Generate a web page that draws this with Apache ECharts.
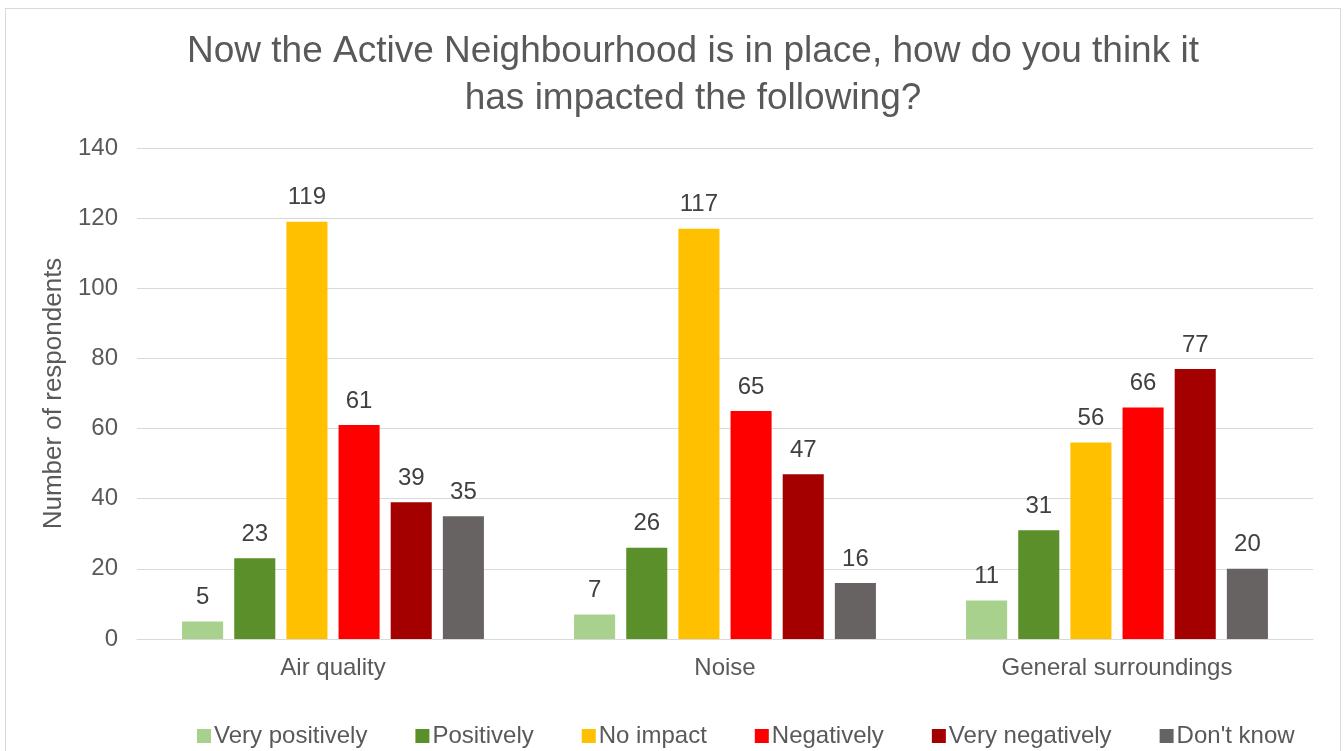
<!DOCTYPE html>
<html>
<head>
<meta charset="utf-8">
<script src="https://cdn.jsdelivr.net/npm/echarts@6/dist/echarts.min.js"></script>
<style>
  html, body { margin: 0; padding: 0; background: #fff; }
  #chart { width: 1344px; height: 751px; }
  .frame { position: absolute; left: 5px; top: 8px; width: 1334px; height: 760px; border: 1px solid #d9d9d9; pointer-events: none; }
</style>
</head>
<body>
<div id="chart"></div>
<div class="frame"></div>
<script>
  const categories = ['Air quality', 'Noise', 'General surroundings'];
  const seriesNames = ['Very positively', 'Positively', 'No impact', 'Negatively', 'Very negatively', "Don't know"];
  const veryPositively = [5, 7, 11];
  const positively = [23, 26, 31];
  const noImpact = [119, 117, 56];
  const negatively = [61, 65, 66];
  const veryNegatively = [39, 47, 77];
  const dontKnow = [35, 16, 20];
  const colors = ['#a9d18e', '#5b8f29', '#ffc000', '#ff0000', '#a50000', '#686363'];

  const values = [veryPositively, positively, noImpact, negatively, veryNegatively, dontKnow];

  let chart = echarts.init(document.getElementById('chart'));
  let option = {
    animation: false,
    textStyle: { fontFamily: 'Liberation Sans, Arial, sans-serif' },
    title: {
      text: 'Now the Active Neighbourhood is in place, how do you think it\nhas impacted the following?',
      left: 688,
      textAlign: 'center',
      top: 23,
      textStyle: {
        fontSize: 37,
        fontWeight: 'normal',
        color: '#595959',
        lineHeight: 47
      }
    },
    legend: {
      data: seriesNames,
      top: 724,
      left: 197,
      padding: 0,
      icon: 'rect',
      itemWidth: 14,
      itemHeight: 14,
      itemGap: 48,
      textStyle: { fontSize: 24, color: '#595959', padding: [0, 0, 0, -2] }
    },
    grid: {
      left: 137,
      right: 31,
      top: 148,
      bottom: 112
    },
    xAxis: {
      type: 'category',
      data: categories,
      axisLine: { lineStyle: { color: '#d9d9d9', width: 1 } },
      axisTick: { show: false },
      axisLabel: { fontSize: 24, color: '#595959', margin: 17 }
    },
    yAxis: {
      type: 'value',
      min: 0,
      max: 140,
      interval: 20,
      name: 'Number of respondents',
      nameLocation: 'middle',
      nameGap: 68,
      nameTextStyle: { fontSize: 26, color: '#595959' },
      axisLine: { show: false },
      axisTick: { show: false },
      axisLabel: { fontSize: 24, color: '#595959', margin: 19 },
      splitLine: { lineStyle: { color: '#d9d9d9', width: 1 } }
    },
    series: seriesNames.map((name, i) => ({
      name: name,
      type: 'bar',
      data: values[i],
      barGap: '27%',
      barCategoryGap: '23%',
      itemStyle: { color: colors[i] },
      label: {
        show: true,
        position: 'top',
        distance: 12,
        fontSize: 24,
        color: '#404040'
      }
    }))
  };
  chart.setOption(option);
</script>
</body>
</html>
